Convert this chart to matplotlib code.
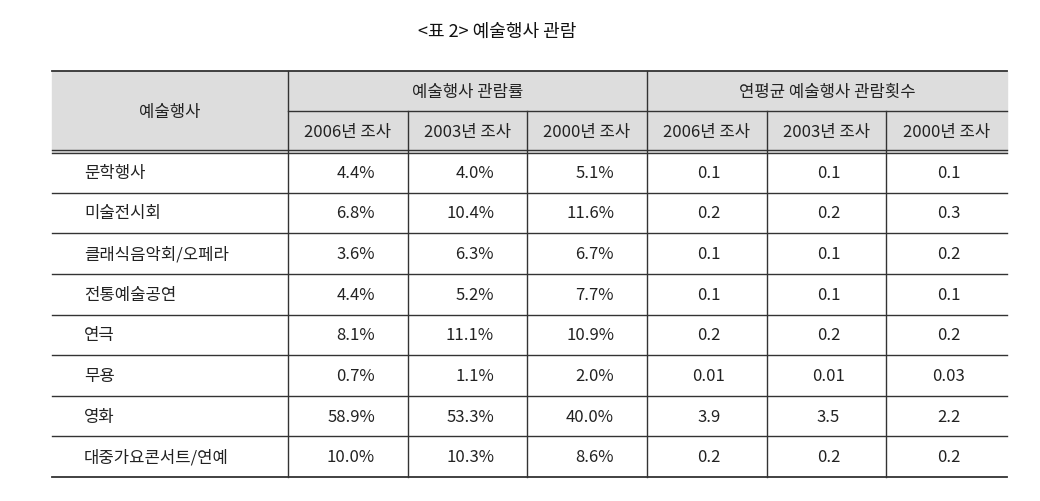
import matplotlib
matplotlib.use("Agg")
import matplotlib.pyplot as plt
from matplotlib.patches import Rectangle

plt.rcParams["font.family"] = ["Noto Sans CJK KR", "Noto Sans CJK JP", "Noto Sans CJK SC", "Noto Sans CJK TC", "DejaVu Sans"]

title = "<표 2> 예술행사 관람"
events = ["문학행사", "미술전시회", "클래식음악회/오페라", "전통예술공연", "연극", "무용", "영화", "대중가요콘서트/연예"]
years = ["2006년 조사", "2003년 조사", "2000년 조사"]
rate_2006 = ["4.4%", "6.8%", "3.6%", "4.4%", "8.1%", "0.7%", "58.9%", "10.0%"]
rate_2003 = ["4.0%", "10.4%", "6.3%", "5.2%", "11.1%", "1.1%", "53.3%", "10.3%"]
rate_2000 = ["5.1%", "11.6%", "6.7%", "7.7%", "10.9%", "2.0%", "40.0%", "8.6%"]
cnt_2006 = ["0.1", "0.2", "0.1", "0.1", "0.2", "0.01", "3.9", "0.2"]
cnt_2003 = ["0.1", "0.2", "0.1", "0.1", "0.2", "0.01", "3.5", "0.2"]
cnt_2000 = ["0.1", "0.3", "0.2", "0.1", "0.2", "0.03", "2.2", "0.2"]

fig = plt.figure(figsize=(10.4, 5.02), dpi=100)
ax = fig.add_axes([0, 0, 1, 1])
ax.set_xlim(0, 1040); ax.set_ylim(502, 0); ax.axis("off")

L, R = 52, 1007
cols = [L, 288, 408, 527, 647, 767, 886, R]
top, mid, hdr, bot = 72, 112, 153, 478
rowh = (bot - hdr) / len(events)
lc = "#333333"; tc = "#222222"; fs = 12

ax.add_patch(Rectangle((L, top), R - L, hdr - top, color="#dddddd", zorder=0))
ax.text(497, 32, title, ha="center", va="center", fontsize=13, color="#111111")

for y in [top, bot]:
    ax.plot([L, R], [y, y], color=lc, lw=1.3)
ax.plot([L, R], [hdr - 2, hdr - 2], color=lc, lw=1.0)
ax.plot([L, R], [hdr + 1, hdr + 1], color=lc, lw=1.0)
ax.plot([cols[1], R], [mid, mid], color=lc, lw=1.0)
for i in range(1, len(events)):
    y = hdr + i * rowh
    ax.plot([L, R], [y, y], color=lc, lw=1.0)
for j, x in enumerate(cols[1:-1], start=1):
    y0 = top if j in (1, 4) else mid
    ax.plot([x, x], [y0, bot], color=lc, lw=1.0)

ax.text((L + cols[1]) / 2, (top + hdr) / 2, "예술행사", ha="center", va="center", fontsize=fs, color=tc)
ax.text((cols[1] + cols[4]) / 2, (top + mid) / 2, "예술행사 관람률", ha="center", va="center", fontsize=fs, color=tc)
ax.text((cols[4] + R) / 2, (top + mid) / 2, "연평균 예술행사 관람횟수", ha="center", va="center", fontsize=fs, color=tc)
for k in range(6):
    ax.text((cols[k + 1] + cols[k + 2]) / 2, (mid + hdr) / 2, years[k % 3], ha="center", va="center", fontsize=fs, color=tc)

rates = [rate_2006, rate_2003, rate_2000]
cnts = [cnt_2006, cnt_2003, cnt_2000]
for i, ev in enumerate(events):
    y = hdr + (i + 0.5) * rowh
    ax.text(84, y, ev, ha="left", va="center", fontsize=fs, color=tc)
    for k in range(3):
        ax.text(cols[k + 2] - 33, y, rates[k][i], ha="right", va="center", fontsize=fs, color=tc)
        ax.text((cols[k + 4] + cols[k + 5]) / 2 + 2, y, cnts[k][i], ha="center", va="center", fontsize=fs, color=tc)

fig.savefig("out.png", dpi=100)
